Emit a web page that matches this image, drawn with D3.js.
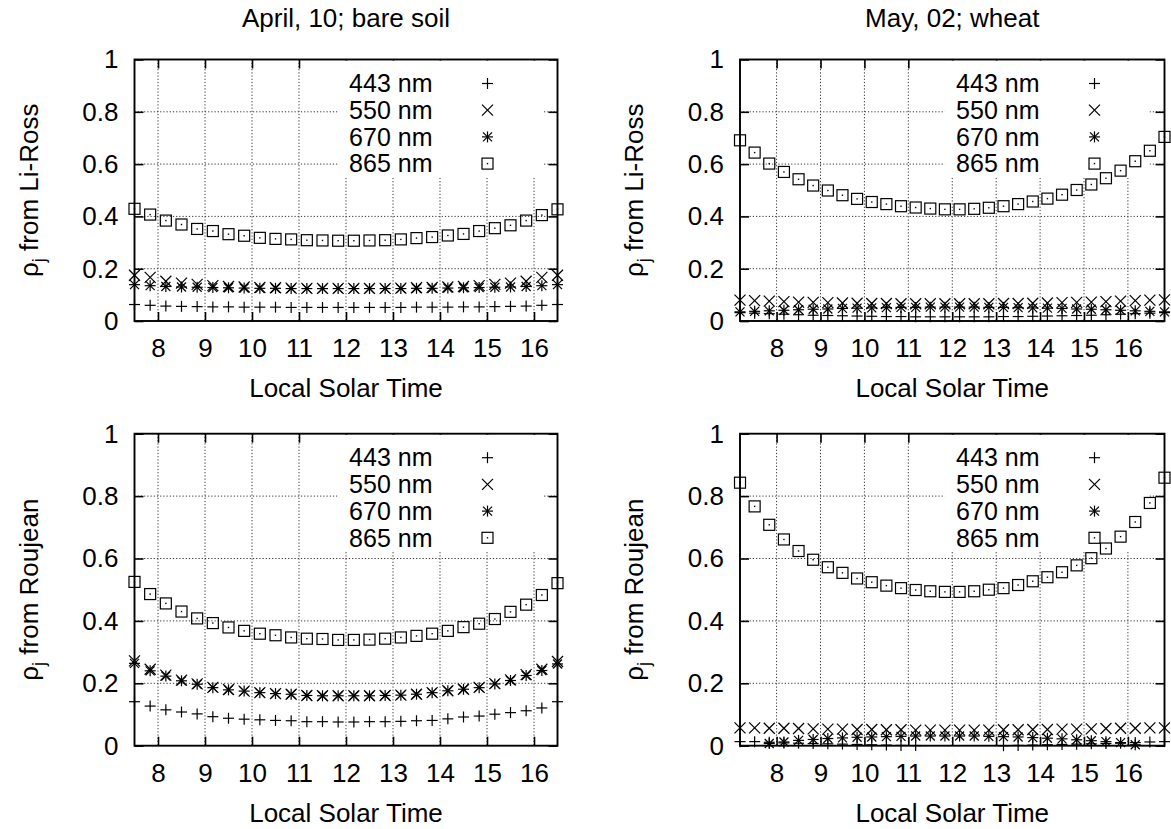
<!doctype html>
<html>
<head>
<meta charset="utf-8">
<title>rho_j</title>
<script src="https://d3js.org/d3.v7.min.js"></script>
<style>
	body{ margin:0; background:#fff; }
	svg text{ font-family:"Liberation Sans", Arial, Helvetica, sans-serif; fill:#000; }
</style>
</head>
<body>
<div id="chart"></div>
<script>
// local solar time of each sample (left column: April, right column: May)
var timesApril = [7.5, 7.833, 8.167, 8.5, 8.833, 9.167, 9.5, 9.833, 10.167, 10.5, 10.833, 11.167, 11.5, 11.833,
	12.167, 12.5, 12.833, 13.167, 13.5, 13.833, 14.167, 14.5, 14.833, 15.167, 15.5, 15.833, 16.167, 16.5];
var timesMay = [7.167, 7.5, 7.833, 8.167, 8.5, 8.833, 9.167, 9.5, 9.833, 10.167, 10.5, 10.833, 11.167, 11.5, 11.833,
	12.167, 12.5, 12.833, 13.167, 13.5, 13.833, 14.167, 14.5, 14.833, 15.167, 15.5, 15.833, 16.167, 16.5, 16.833];

var bands = ["443 nm", "550 nm", "670 nm", "865 nm"];
var xTicks = [8, 9, 10, 11, 12, 13, 14, 15, 16];
var yTicks = [0, 0.2, 0.4, 0.6, 0.8, 1];
var yTickLabels = ["0", "0.2", "0.4", "0.6", "0.8", "1"];

// April 10, bare soil, Li-Ross
var liRossApril443 = [0.063, 0.060, 0.057, 0.056, 0.055, 0.054, 0.054, 0.053, 0.053, 0.053, 0.052, 0.052, 0.052, 0.052,
	0.052, 0.052, 0.052, 0.052, 0.053, 0.053, 0.053, 0.054, 0.054, 0.055, 0.056, 0.057, 0.060, 0.063];
var liRossApril550 = [0.175, 0.167, 0.152, 0.145, 0.140, 0.135, 0.132, 0.130, 0.128, 0.127, 0.126, 0.125, 0.125, 0.125,
	0.125, 0.125, 0.125, 0.126, 0.127, 0.128, 0.130, 0.132, 0.135, 0.140, 0.145, 0.152, 0.167, 0.175];
var liRossApril670 = [0.139, 0.135, 0.132, 0.130, 0.129, 0.128, 0.127, 0.126, 0.125, 0.125, 0.124, 0.124, 0.124, 0.124,
	0.124, 0.124, 0.124, 0.124, 0.125, 0.125, 0.126, 0.127, 0.128, 0.129, 0.130, 0.132, 0.135, 0.139];
var liRossApril865 = [0.429, 0.407, 0.384, 0.369, 0.352, 0.344, 0.332, 0.326, 0.318, 0.314, 0.312, 0.309, 0.308, 0.307,
	0.307, 0.308, 0.309, 0.312, 0.317, 0.321, 0.327, 0.333, 0.344, 0.355, 0.366, 0.384, 0.405, 0.427];

// May 02, wheat, Li-Ross
var liRossMay443 = [0.032, 0.030, 0.028, 0.026, 0.024, 0.022, 0.021, 0.020, 0.019, 0.018, 0.017, 0.017, 0.016, 0.016, 0.016,
	0.016, 0.016, 0.016, 0.017, 0.017, 0.018, 0.019, 0.020, 0.021, 0.022, 0.024, 0.026, 0.028, 0.030, 0.032];
var liRossMay550 = [0.080, 0.078, 0.076, 0.074, 0.072, 0.071, 0.070, 0.069, 0.068, 0.067, 0.067, 0.066, 0.066, 0.066, 0.066,
	0.066, 0.066, 0.066, 0.067, 0.067, 0.068, 0.069, 0.070, 0.071, 0.072, 0.074, 0.076, 0.078, 0.080, 0.081];
var liRossMay670 = [0.035, 0.037, 0.039, 0.041, 0.043, 0.045, 0.046, 0.048, 0.049, 0.050, 0.051, 0.052, 0.052, 0.053, 0.053,
	0.053, 0.053, 0.052, 0.052, 0.051, 0.050, 0.049, 0.048, 0.046, 0.045, 0.043, 0.041, 0.039, 0.037, 0.035];
var liRossMay865 = [0.691, 0.644, 0.602, 0.570, 0.542, 0.518, 0.499, 0.481, 0.467, 0.455, 0.447, 0.439, 0.434, 0.430, 0.427,
	0.427, 0.429, 0.433, 0.439, 0.447, 0.457, 0.468, 0.483, 0.501, 0.522, 0.546, 0.575, 0.611, 0.651, 0.704];

// April 10, bare soil, Roujean
var roujeanApril443 = [0.141, 0.127, 0.115, 0.108, 0.102, 0.093, 0.088, 0.085, 0.083, 0.081, 0.080, 0.077, 0.077, 0.076,
	0.076, 0.077, 0.077, 0.078, 0.080, 0.081, 0.086, 0.092, 0.095, 0.101, 0.106, 0.112, 0.121, 0.141];
var roujeanApril550 = [0.272, 0.245, 0.226, 0.210, 0.198, 0.187, 0.180, 0.175, 0.170, 0.167, 0.165, 0.161, 0.160, 0.160,
	0.160, 0.160, 0.161, 0.162, 0.165, 0.170, 0.176, 0.181, 0.187, 0.199, 0.211, 0.228, 0.245, 0.270];
var roujeanApril670 = [0.264, 0.240, 0.223, 0.208, 0.197, 0.186, 0.179, 0.175, 0.170, 0.167, 0.165, 0.161, 0.160, 0.160,
	0.160, 0.160, 0.161, 0.162, 0.165, 0.170, 0.176, 0.181, 0.186, 0.198, 0.209, 0.225, 0.241, 0.262];
var roujeanApril865 = [0.525, 0.486, 0.456, 0.430, 0.408, 0.393, 0.379, 0.368, 0.359, 0.354, 0.347, 0.343, 0.342, 0.339,
	0.339, 0.340, 0.343, 0.347, 0.352, 0.359, 0.368, 0.380, 0.391, 0.406, 0.429, 0.452, 0.483, 0.521];

// May 02, wheat, Roujean (values below 0 fall outside the plot, like in the original)
var roujeanMay443 = [0.013, 0.013, 0.011, 0.009, 0.008, 0.007, 0.006, 0.005, 0.004, 0.003, 0.002, 0.001, 0.0005, -0.002, -0.003,
	-0.003, -0.003, -0.002, 0.000, 0.001, 0.002, 0.003, 0.004, 0.005, 0.006, 0.007, 0.008, 0.010, 0.012, 0.013];
var roujeanMay550 = [0.057, 0.057, 0.056, 0.056, 0.055, 0.054, 0.053, 0.053, 0.052, 0.052, 0.051, 0.051, 0.050, 0.050, 0.050,
	0.050, 0.050, 0.050, 0.051, 0.051, 0.052, 0.052, 0.053, 0.053, 0.054, 0.055, 0.056, 0.056, 0.057, 0.057];
var roujeanMay670 = [-0.008, -0.003, 0.007, 0.012, 0.017, 0.020, 0.023, 0.025, 0.027, 0.028, 0.029, 0.030, 0.031, 0.031, 0.031,
	0.031, 0.031, 0.030, 0.029, 0.028, 0.026, 0.024, 0.022, 0.019, 0.016, 0.013, 0.010, 0.003, -0.004, -0.009];
var roujeanMay865 = [0.843, 0.767, 0.708, 0.661, 0.624, 0.596, 0.572, 0.554, 0.536, 0.524, 0.513, 0.505, 0.499, 0.495, 0.493,
	0.493, 0.495, 0.500, 0.505, 0.515, 0.527, 0.540, 0.556, 0.578, 0.601, 0.632, 0.670, 0.717, 0.778, 0.859];

var width = 1171;
var height = 829;
var fontSize = 26;

var svg = d3.select("#chart")
	.append("svg")
	.attr("width", width)
	.attr("height", height);

// the four panels
var panels = [
	{ left:134.5, right:557.5, top:59.5, bottom:321, times:timesApril, xDomain:[7.5, 16.5],
	  title:"April, 10; bare soil", model:"Li-Ross",
	  series:[liRossApril443, liRossApril550, liRossApril670, liRossApril865] },
	{ left:740, right:1164.5, top:59.5, bottom:321, times:timesMay, xDomain:[7.1667, 16.8333],
	  title:"May, 02; wheat", model:"Li-Ross",
	  series:[liRossMay443, liRossMay550, liRossMay670, liRossMay865] },
	{ left:134.5, right:557.5, top:433.7, bottom:745.7, times:timesApril, xDomain:[7.5, 16.5],
	  title:null, model:"Roujean",
	  series:[roujeanApril443, roujeanApril550, roujeanApril670, roujeanApril865] },
	{ left:740, right:1164.5, top:433.7, bottom:745.7, times:timesMay, xDomain:[7.1667, 16.8333],
	  title:null, model:"Roujean",
	  series:[roujeanMay443, roujeanMay550, roujeanMay670, roujeanMay865] }
];

// gnuplot point types: plus, cross, star, box with a dot
function drawMarker(g, type, cx, cy){
	var s = 5.5;
	var p = g.append("g").attr("transform", "translate(" + cx + "," + cy + ")")
		.attr("stroke", "#000").attr("stroke-width", 1.2).attr("fill", "none");
	if(type == 0 || type == 2){
		p.append("line").attr("x1", -s).attr("x2", s).attr("y1", 0).attr("y2", 0);
		p.append("line").attr("x1", 0).attr("x2", 0).attr("y1", -s).attr("y2", s);
	}
	if(type == 1 || type == 2){
		var d = type == 2 ? 4.5 : 5.5;
		p.append("line").attr("x1", -d).attr("x2", d).attr("y1", -d).attr("y2", d);
		p.append("line").attr("x1", -d).attr("x2", d).attr("y1", d).attr("y2", -d);
	}
	if(type == 3){
		p.append("rect").attr("x", -5.5).attr("y", -5.5).attr("width", 11).attr("height", 11);
		p.append("rect").attr("x", -0.7).attr("y", -0.7).attr("width", 1.4).attr("height", 1.4)
			.attr("fill", "#000").attr("stroke", "none");
	}
}

panels.forEach(function(pn){
	var x = d3.scaleLinear().domain(pn.xDomain).range([pn.left, pn.right]);
	var y = d3.scaleLinear().domain([0, 1]).range([pn.bottom, pn.top]);
	var g = svg.append("g");

	//grid
	g.selectAll(".vgrid").data(xTicks).enter().append("line")
		.attr("x1", function(d){ return x(d); }).attr("x2", function(d){ return x(d); })
		.attr("y1", pn.top).attr("y2", pn.bottom)
		.attr("stroke", "#333").attr("stroke-width", 1).attr("stroke-dasharray", "1.2,2");
	g.selectAll(".hgrid").data(yTicks.slice(1, 5)).enter().append("line")
		.attr("x1", pn.left).attr("x2", pn.right)
		.attr("y1", function(d){ return y(d); }).attr("y2", function(d){ return y(d); })
		.attr("stroke", "#333").attr("stroke-width", 1).attr("stroke-dasharray", "1.2,2");

	//axes, ticks pointing inwards on all four sides
	var axB = g.append("g").attr("transform", "translate(0," + pn.bottom + ")")
		.call(d3.axisBottom(x).tickValues(xTicks).tickSizeInner(-9).tickSizeOuter(0).tickPadding(17.5));
	var axT = g.append("g").attr("transform", "translate(0," + pn.top + ")")
		.call(d3.axisTop(x).tickValues(xTicks).tickSizeInner(-9).tickSizeOuter(0).tickFormat(""));
	var axL = g.append("g").attr("transform", "translate(" + pn.left + ",0)")
		.call(d3.axisLeft(y).tickValues(yTicks).tickSizeInner(-9).tickSizeOuter(0).tickPadding(16)
			.tickFormat(function(d, i){ return yTickLabels[i]; }));
	var axR = g.append("g").attr("transform", "translate(" + pn.right + ",0)")
		.call(d3.axisRight(y).tickValues(yTicks).tickSizeInner(-9).tickSizeOuter(0).tickFormat(""));
	[axB, axT, axL, axR].forEach(function(a){
		a.select(".domain").remove();
		a.selectAll("line").attr("stroke", "#000").attr("stroke-width", 1.6);
		a.selectAll("text").attr("font-size", fontSize).attr("font-family", null).attr("fill", "#000");
	});

	//legend (white key box hides the grid)
	var keyRight = pn.right - 15;
	g.append("rect")
		.attr("x", pn.right - 220).attr("y", pn.top + 1)
		.attr("width", 205).attr("height", 117)
		.attr("fill", "#fff");
	bands.forEach(function(b, i){
		var ky = pn.top + 24 + i * 26.7;
		g.append("text").attr("x", keyRight - 110).attr("y", ky).attr("dy", "0.35em")
			.attr("text-anchor", "end").attr("font-size", fontSize - 1).text(b);
		drawMarker(g, i, pn.right - 70, ky);
	});

	//points
	pn.series.forEach(function(vals, k){
		vals.forEach(function(v, i){
			if(v < 0 || v > 1) return;
			drawMarker(g, k, x(pn.times[i]), y(v));
		});
	});

	//border
	g.append("rect")
		.attr("x", pn.left).attr("y", pn.top)
		.attr("width", pn.right - pn.left).attr("height", pn.bottom - pn.top)
		.attr("fill", "none").attr("stroke", "#000").attr("stroke-width", 1.9);

	//labels
	var cx = (pn.left + pn.right) / 2;
	var cy = (pn.top + pn.bottom) / 2;
	if(pn.title){
		g.append("text").attr("x", cx).attr("y", 27)
			.attr("text-anchor", "middle").attr("font-size", fontSize).text(pn.title);
	}
	g.append("text").attr("x", cx).attr("y", pn.bottom + 76)
		.attr("text-anchor", "middle").attr("font-size", fontSize).text("Local Solar Time");
	var yl = g.append("text")
		.attr("transform", "translate(" + (pn.left - 97) + "," + cy + ") rotate(-90)")
		.attr("text-anchor", "middle").attr("font-size", fontSize);
	yl.append("tspan").text("\u03c1");
	yl.append("tspan").attr("font-size", fontSize * 0.7).attr("dy", 7).text("j");
	yl.append("tspan").attr("dy", -7).text(" from " + pn.model);
});
</script>
</body>
</html>
